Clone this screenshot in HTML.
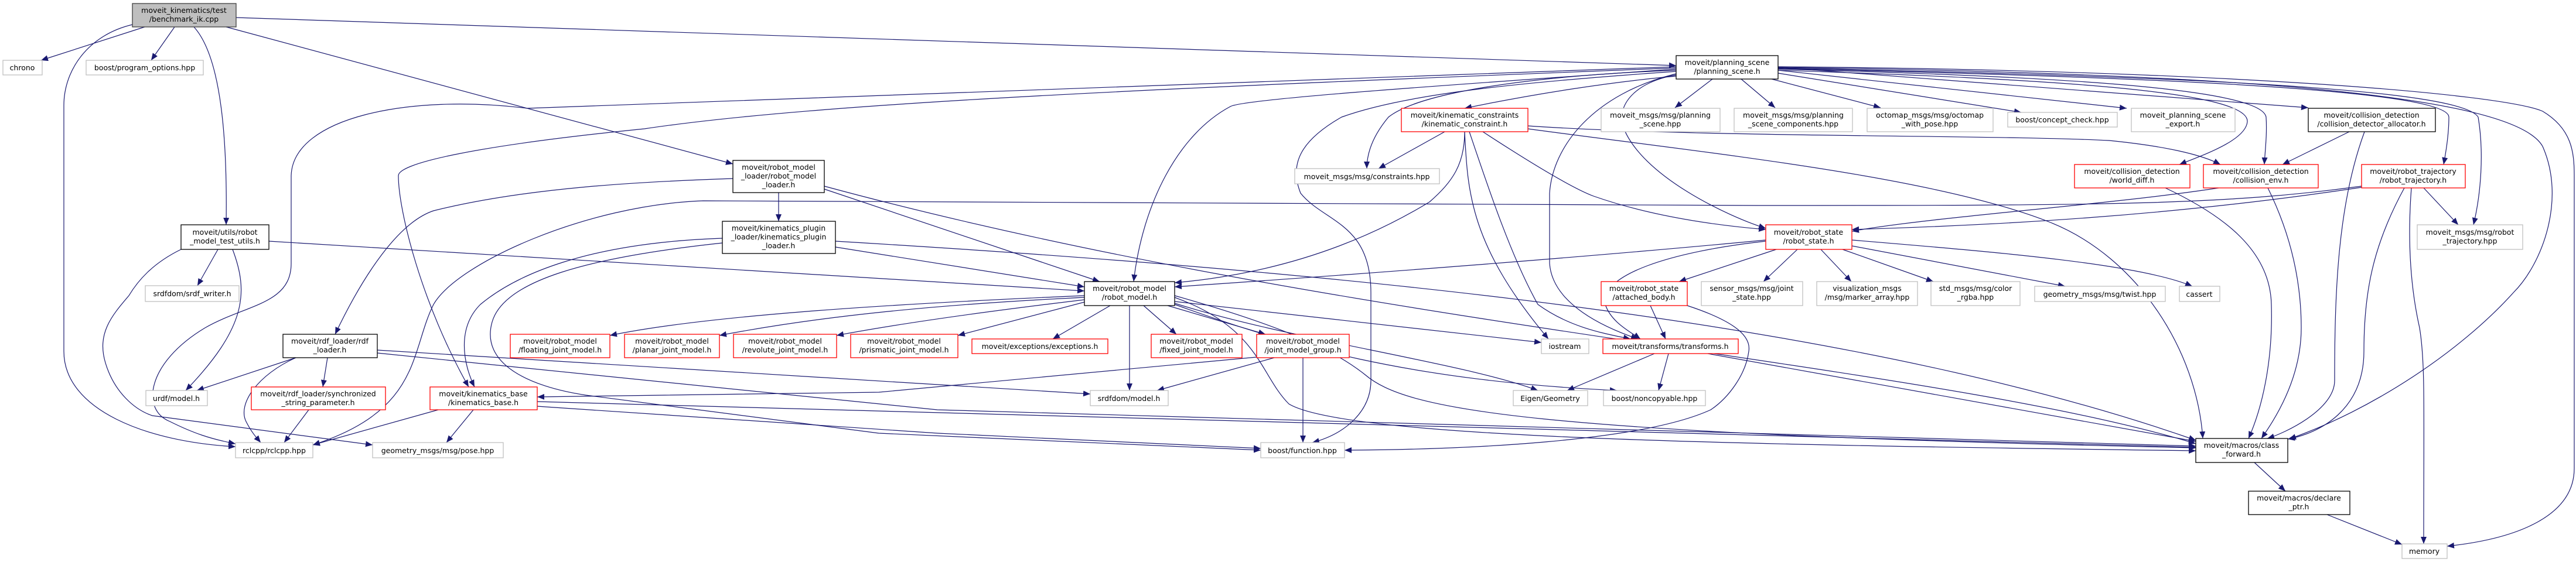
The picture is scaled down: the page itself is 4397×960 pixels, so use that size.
<!DOCTYPE html>
<html><head><meta charset="utf-8"><style>
html,body{margin:0;padding:0;background:#fff;}
svg{display:block;}
text{font-family:"DejaVu Sans","Liberation Sans",sans-serif;font-size:12.5px;fill:#000;text-anchor:middle;}
.e{fill:none;stroke:#191970;stroke-width:1.2;marker-end:url(#a);}
.k{fill:#fff;stroke:#000;stroke-width:1.3;}
.r{fill:#fff;stroke:#ff0000;stroke-width:1.3;}
.g{fill:#fff;stroke:#bfbfbf;stroke-width:1.3;}
</style></head><body>
<svg width="4397" height="960" viewBox="0 0 4397 960" xmlns="http://www.w3.org/2000/svg">
<defs><marker id="a" markerUnits="userSpaceOnUse" markerWidth="14" markerHeight="12" refX="12" refY="5" orient="auto"><path d="M0,0 L12,5 L0,10 z" fill="#191970"/></marker></defs>

<!-- edges -->
<g>
<path class="e" d="M247,46 L70,103"/>
<path class="e" d="M298,46 L258,103"/>
<path class="e" d="M331,46 C380,100 388,250 386,384"/>
<path class="e" d="M226,42 C150,60 109,120 109,180 L109,600 C109,700 250,755 402,763"/>
<path class="e" d="M386,46 L1251,280"/>
<path class="e" d="M403,30 L2861,112"/>
<path class="e" d="M372,426 L337,488"/>
<path class="e" d="M397,426 C425,500 420,560 317,667"/>
<path class="e" d="M309,426 C260,450 235,480 220,505 C190,540 165,570 180,620 C195,670 230,700 260,710 L636,760"/>
<path class="e" d="M459,412 L1851,497"/>
<path class="e" d="M1329,329 L1329,378"/>
<path class="e" d="M1407,323 L1877,481"/>
<path class="e" d="M1251,305 C1100,310 900,320 740,360 C680,380 620,470 572,571"/>
<path class="e" d="M1407,318 C2300,560 3300,620 3748,758"/>
<path class="e" d="M1426,422 L1851,490"/>
<path class="e" d="M1233,407 C1000,415 880,470 820,520 C780,560 790,620 810,661"/>
<path class="e" d="M1233,415 C1000,440 860,480 840,550 C820,620 900,660 1000,675 L1500,740 L2152,769"/>
<path class="e" d="M1426,412 C2400,470 3200,560 3748,752"/>
<path class="e" d="M2861,130 C2750,140 2620,160 2500,185"/>
<path class="e" d="M2923,135 L2859,184"/>
<path class="e" d="M2972,135 L3030,184"/>
<path class="e" d="M3024,135 L3210,184"/>
<path class="e" d="M3035,125 L3450,192"/>
<path class="e" d="M3035,120 L3630,185"/>
<path class="e" d="M3035,115 L3940,184"/>
<path class="e" d="M3035,120 C3500,135 3840,155 3836,208 C3833,240 3760,265 3720,281"/>
<path class="e" d="M3035,118 C3500,130 3860,150 3868,200 C3870,230 3866,260 3865,281"/>
<path class="e" d="M3035,117 C3600,130 4180,150 4180,200 C4180,230 4175,260 4171,281"/>
<path class="e" d="M3035,116 C3700,130 4200,150 4230,200 C4240,260 4235,330 4222,384"/>
<path class="e" d="M3035,115 C3800,125 4290,160 4340,250 C4380,340 4340,450 4290,500 C4200,600 4050,700 3907,750"/>
<path class="e" d="M3035,114 C3800,120 4270,160 4340,190 C4390,220 4394,260 4394,300 L4394,800 C4394,880 4300,920 4177,933"/>
<path class="e" d="M2861,128 C2790,140 2760,180 2770,215 C2800,300 2950,370 3014,390"/>
<path class="e" d="M2861,126 C2720,160 2650,250 2645,330 L2645,450 C2650,520 2740,560 2796,579"/>
<path class="e" d="M2861,118 C2400,150 2120,170 2100,182 C2010,230 1950,350 1935,481"/>
<path class="e" d="M2861,116 C2000,150 1400,175 1100,220 C800,250 680,280 680,300 C680,360 720,520 800,661"/>
<path class="e" d="M2861,114 C1800,150 1100,180 900,185 C700,160 500,200 497,300 L497,450 C497,520 420,520 350,560 C250,620 240,700 290,720 C330,740 360,750 402,758"/>
<path class="e" d="M2861,120 C2600,130 2420,160 2370,200 C2345,230 2333,260 2333,288"/>
<path class="e" d="M2861,122 C2600,140 2400,160 2290,200 C2220,240 2200,280 2220,330 C2260,380 2340,380 2340,500 L2340,650 C2340,700 2300,740 2240,756"/>
<path class="e" d="M2466,225 L2353,288"/>
<path class="e" d="M2531,225 C2600,270 2680,320 2720,335 C2820,370 2930,385 3014,392"/>
<path class="e" d="M2500,225 C2500,280 2480,310 2440,345 C2300,430 2150,470 2005,483"/>
<path class="e" d="M2500,225 C2505,330 2510,420 2643,579"/>
<path class="e" d="M2508,225 C2540,320 2580,440 2625,520 C2680,560 2740,570 2783,579"/>
<path class="e" d="M2608,220 C2900,260 3300,300 3500,380 C3650,440 3750,600 3760,749"/>
<path class="e" d="M2608,215 C2900,235 3400,230 3600,240 C3700,250 3760,265 3790,281"/>
<path class="e" d="M3014,410 C2700,440 2300,470 2005,490"/>
<path class="e" d="M3032,426 L2866,481"/>
<path class="e" d="M3068,426 L3010,481"/>
<path class="e" d="M3108,426 L3160,481"/>
<path class="e" d="M3145,426 L3300,481"/>
<path class="e" d="M3161,420 L3525,489"/>
<path class="e" d="M3161,410 C3400,430 3650,450 3742,489"/>
<path class="e" d="M3014,412 C2850,430 2730,470 2740,520 C2750,550 2780,565 2800,579"/>
<path class="e" d="M2817,522 L2843,579"/>
<path class="e" d="M2880,522 C2950,545 2990,570 2985,600 C2980,640 2950,680 2920,700 C2800,755 2500,768 2295,769"/>
<path class="e" d="M2824,604 L2675,667"/>
<path class="e" d="M2848,604 L2831,667"/>
<path class="e" d="M2915,604 L3748,754"/>
<path class="e" d="M1851,505 C1500,520 1200,540 1041,573"/>
<path class="e" d="M1851,508 C1600,520 1400,540 1228,573"/>
<path class="e" d="M1851,512 C1700,530 1550,550 1428,573"/>
<path class="e" d="M1851,516 L1635,573"/>
<path class="e" d="M1895,522 L1797,579"/>
<path class="e" d="M1952,522 L2008,571"/>
<path class="e" d="M1993,522 L2160,571"/>
<path class="e" d="M1928,522 L1928,667"/>
<path class="e" d="M2005,515 L2631,585"/>
<path class="e" d="M2005,518 C2200,580 2500,620 2625,667"/>
<path class="e" d="M2005,520 C2200,590 2400,650 2760,667"/>
<path class="e" d="M2005,505 C2200,560 2280,600 2330,640 C2400,700 2600,740 3748,765"/>
<path class="e" d="M2005,508 C2150,560 2150,640 2200,690 C2300,750 3000,760 3748,770"/>
<path class="e" d="M2145,610 L1500,670 L917,678"/>
<path class="e" d="M2175,611 L1975,667"/>
<path class="e" d="M2224,611 L2224,756"/>
<path class="e" d="M505,611 L336,667"/>
<path class="e" d="M559,611 L551,661"/>
<path class="e" d="M505,611 C440,640 405,690 420,720 C430,740 440,750 445,756"/>
<path class="e" d="M644,598 L1861,673"/>
<path class="e" d="M644,603 L1600,700 L3748,762"/>
<path class="e" d="M527,700 L485,756"/>
<path class="e" d="M748,700 L534,760"/>
<path class="e" d="M808,700 L762,756"/>
<path class="e" d="M917,686 L3748,764"/>
<path class="e" d="M917,694 L1600,740 L2152,766"/>
<path class="e" d="M4010,225 L3896,281"/>
<path class="e" d="M4036,225 C3990,350 3985,500 3985,650 C3985,700 3900,740 3870,749"/>
<path class="e" d="M3696,321 C3800,370 3875,430 3877,520 C3880,620 3860,700 3838,749"/>
<path class="e" d="M3871,321 C3910,400 3928,480 3928,560 C3928,650 3880,720 3860,749"/>
<path class="e" d="M3787,321 C3600,350 3300,370 3161,395"/>
<path class="e" d="M4031,320 C3700,370 3400,385 3161,392"/>
<path class="e" d="M4031,318 C3800,350 3600,351 3000,351 L1200,343 C1000,350 780,450 740,520 C700,600 720,700 534,760"/>
<path class="e" d="M4137,321 L4196,384"/>
<path class="e" d="M4104,321 C4050,420 4035,500 4035,600 C4035,700 3960,740 3905,750"/>
<path class="e" d="M4116,321 C4110,400 4112,480 4130,560 C4140,620 4137,700 4137,929"/>
<path class="e" d="M3848,790 L3901,839"/>
<path class="e" d="M3972,879 L4100,930"/>
</g>

<!-- nodes -->
<g>
<rect x="226" y="6" width="177" height="40" style="fill:#bfbfbf;stroke:#404040;stroke-width:1.3"/>
<text x="314" y="22">moveit_kinematics/test</text><text x="314" y="37">/benchmark_ik.cpp</text>

<rect class="g" x="5" y="103" width="67" height="25"/><text x="38" y="120">chrono</text>
<rect class="g" x="147" y="103" width="200" height="25"/><text x="247" y="120">boost/program_options.hpp</text>

<rect class="k" x="309" y="384" width="150" height="42"/><text x="384" y="401">moveit/utils/robot</text><text x="384" y="416">_model_test_utils.h</text>
<rect class="g" x="248" y="488" width="160" height="27"/><text x="328" y="506">srdfdom/srdf_writer.h</text>
<rect class="g" x="249" y="667" width="105" height="26"/><text x="301" y="685">urdf/model.h</text>
<rect class="k" x="483" y="571" width="161" height="40"/><text x="563" y="587">moveit/rdf_loader/rdf</text><text x="563" y="602">_loader.h</text>
<rect class="r" x="429" y="661" width="229" height="39"/><text x="543" y="677">moveit/rdf_loader/synchronized</text><text x="543" y="692">_string_parameter.h</text>
<rect class="g" x="402" y="756" width="132" height="26"/><text x="468" y="774">rclcpp/rclcpp.hpp</text>
<rect class="g" x="636" y="756" width="223" height="26"/><text x="747" y="774">geometry_msgs/msg/pose.hpp</text>
<rect class="r" x="734" y="661" width="183" height="39"/><text x="825" y="677">moveit/kinematics_base</text><text x="825" y="692">/kinematics_base.h</text>

<rect class="r" x="871" y="571" width="170" height="40"/><text x="956" y="587">moveit/robot_model</text><text x="956" y="602">/floating_joint_model.h</text>
<rect class="r" x="1066" y="571" width="162" height="40"/><text x="1147" y="587">moveit/robot_model</text><text x="1147" y="602">/planar_joint_model.h</text>
<rect class="r" x="1252" y="571" width="176" height="40"/><text x="1340" y="587">moveit/robot_model</text><text x="1340" y="602">/revolute_joint_model.h</text>
<rect class="r" x="1452" y="571" width="183" height="40"/><text x="1543" y="587">moveit/robot_model</text><text x="1543" y="602">/prismatic_joint_model.h</text>
<rect class="r" x="1659" y="579" width="232" height="25"/><text x="1775" y="596">moveit/exceptions/exceptions.h</text>
<rect class="r" x="1965" y="571" width="155" height="40"/><text x="2042" y="587">moveit/robot_model</text><text x="2042" y="602">/fixed_joint_model.h</text>
<rect class="r" x="2145" y="571" width="158" height="40"/><text x="2224" y="587">moveit/robot_model</text><text x="2224" y="602">/joint_model_group.h</text>
<rect class="g" x="1861" y="667" width="133" height="26"/><text x="1927" y="685">srdfdom/model.h</text>
<rect class="g" x="2152" y="756" width="143" height="26"/><text x="2223" y="774">boost/function.hpp</text>

<rect class="k" x="1251" y="274" width="156" height="55"/><text x="1329" y="290">moveit/robot_model</text><text x="1329" y="305">_loader/robot_model</text><text x="1329" y="320">_loader.h</text>
<rect class="k" x="1233" y="378" width="193" height="55"/><text x="1329" y="394">moveit/kinematics_plugin</text><text x="1329" y="409">_loader/kinematics_plugin</text><text x="1329" y="424">_loader.h</text>
<rect class="k" x="1851" y="481" width="154" height="41"/><text x="1928" y="497">moveit/robot_model</text><text x="1928" y="512">/robot_model.h</text>

<rect class="k" x="2861" y="95" width="174" height="40"/><text x="2948" y="111">moveit/planning_scene</text><text x="2948" y="126">/planning_scene.h</text>
<rect class="r" x="2392" y="185" width="216" height="40"/><text x="2500" y="201">moveit/kinematic_constraints</text><text x="2500" y="216">/kinematic_constraint.h</text>
<rect class="g" x="2210" y="288" width="247" height="26"/><text x="2333" y="306">moveit_msgs/msg/constraints.hpp</text>
<rect class="g" x="2733" y="185" width="203" height="40"/><text x="2834" y="201">moveit_msgs/msg/planning</text><text x="2834" y="216">_scene.hpp</text>
<rect class="g" x="2960" y="185" width="202" height="40"/><text x="3061" y="201">moveit_msgs/msg/planning</text><text x="3061" y="216">_scene_components.hpp</text>
<rect class="g" x="3187" y="185" width="215" height="40"/><text x="3294" y="201">octomap_msgs/msg/octomap</text><text x="3294" y="216">_with_pose.hpp</text>
<rect class="r" x="3014" y="384" width="147" height="42"/><text x="3087" y="401">moveit/robot_state</text><text x="3087" y="416">/robot_state.h</text>
<rect class="r" x="2733" y="481" width="147" height="41"/><text x="2806" y="497">moveit/robot_state</text><text x="2806" y="512">/attached_body.h</text>
<rect class="g" x="2904" y="481" width="173" height="41"/><text x="2990" y="497">sensor_msgs/msg/joint</text><text x="2990" y="512">_state.hpp</text>
<rect class="g" x="3101" y="481" width="172" height="41"/><text x="3187" y="497">visualization_msgs</text><text x="3187" y="512">/msg/marker_array.hpp</text>
<rect class="g" x="2631" y="579" width="81" height="25"/><text x="2671" y="596">iostream</text>
<rect class="r" x="2736" y="579" width="231" height="25"/><text x="2851" y="596">moveit/transforms/transforms.h</text>
<rect class="g" x="2583" y="667" width="127" height="26"/><text x="2646" y="685">Eigen/Geometry</text>
<rect class="g" x="2737" y="667" width="174" height="26"/><text x="2824" y="685">boost/noncopyable.hpp</text>

<rect class="g" x="3296" y="481" width="152" height="41"/><text x="3372" y="497">std_msgs/msg/color</text><text x="3372" y="512">_rgba.hpp</text>
<rect class="g" x="3473" y="489" width="223" height="26"/><text x="3584" y="507">geometry_msgs/msg/twist.hpp</text>
<rect class="g" x="3720" y="489" width="69" height="26"/><text x="3754" y="507">cassert</text>
<rect class="g" x="3427" y="192" width="187" height="25"/><text x="3520" y="209">boost/concept_check.hpp</text>
<rect class="g" x="3638" y="185" width="177" height="40"/><text x="3726" y="201">moveit_planning_scene</text><text x="3726" y="216">_export.h</text>
<rect class="k" x="3940" y="185" width="217" height="40"/><text x="4048" y="201">moveit/collision_detection</text><text x="4048" y="216">/collision_detector_allocator.h</text>
<rect class="r" x="3541" y="281" width="197" height="40"/><text x="3639" y="297">moveit/collision_detection</text><text x="3639" y="312">/world_diff.h</text>
<rect class="r" x="3761" y="281" width="196" height="40"/><text x="3859" y="297">moveit/collision_detection</text><text x="3859" y="312">/collision_env.h</text>
<rect class="r" x="4031" y="281" width="177" height="40"/><text x="4119" y="297">moveit/robot_trajectory</text><text x="4119" y="312">/robot_trajectory.h</text>
<rect class="g" x="4126" y="384" width="180" height="42"/><text x="4216" y="401">moveit_msgs/msg/robot</text><text x="4216" y="416">_trajectory.hpp</text>
<rect class="k" x="3748" y="749" width="157" height="41"/><text x="3826" y="765">moveit/macros/class</text><text x="3826" y="780">_forward.h</text>
<rect class="k" x="3838" y="839" width="173" height="40"/><text x="3924" y="855">moveit/macros/declare</text><text x="3924" y="870">_ptr.h</text>
<rect class="g" x="4100" y="929" width="77" height="25"/><text x="4138" y="946">memory</text>
</g>
</svg>
</body></html>
